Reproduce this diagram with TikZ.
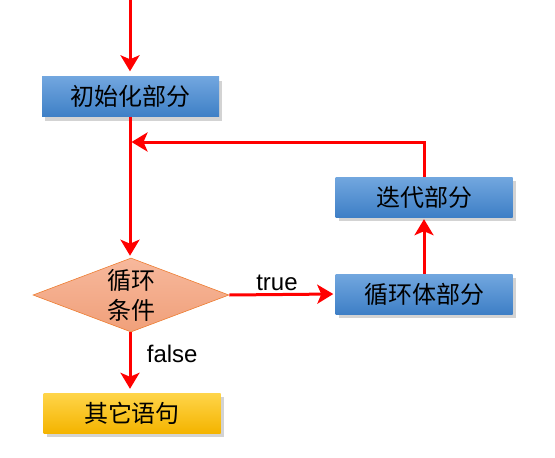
\documentclass[tikz,border=0pt]{standalone}
\usepackage{fontspec}
\newfontfamily\cjk{Noto Sans CJK SC}
\setmainfont{Liberation Sans}
\usetikzlibrary{shapes.geometric,arrows.meta,shadows,positioning}
\definecolor{bluetop}{HTML}{72A7DF}
\definecolor{bluebot}{HTML}{3E7FC6}
\definecolor{yeltop}{HTML}{FFD54A}
\definecolor{yelbot}{HTML}{F4B400}
\definecolor{salmon}{HTML}{F7B89C}
\definecolor{salmonb}{HTML}{F0A07A}
\definecolor{orangeb}{HTML}{ED7D31}
\definecolor{arrred}{HTML}{FF0000}
\tikzset{
  bluebox/.style={rectangle, minimum width=177pt, minimum height=40pt, inner sep=0pt, top color=bluetop, bottom color=bluebot, draw=none, font=\cjk\fontsize{24}{24}\selectfont, drop shadow={shadow xshift=3pt, shadow yshift=-4pt, opacity=0.35}},
  yelbox/.style={bluebox, top color=yeltop, bottom color=yelbot},
  cond/.style={diamond, aspect=2.65, minimum width=196pt, minimum height=74pt, inner sep=0pt, top color=salmon, bottom color=salmonb, draw=orangeb, line width=0.6pt, font=\cjk\fontsize{24}{30}\selectfont, align=center},
  flow/.style={draw=arrred, line width=3pt, -{Stealth[length=16pt,width=19pt,inset=4pt]}},
  lbl/.style={font=\fontsize{24}{24}\selectfont}
}
\begin{document}
\begin{tikzpicture}[x=1pt,y=-1pt]
\useasboundingbox (0,0) rectangle (555,458);
\coordinate (start) at (130,0);
\node[bluebox] (init) at (130.5,96.5) {初始化部分};
\node[cond] (cond) at (131,295) {循环\\条件};
\node[bluebox] (body) at (424,294) {循环体部分};
\node[bluebox] (iter) at (424,197) {迭代部分};
\node[yelbox] (other) at (132,413) {其它语句};
\coordinate (join) at (130,142);
\draw[flow, shorten >=5pt] (start) -- (init.north -| start);
\draw[flow, shorten >=2pt] (init.south -| join) -- (cond.north -| join);
\draw[flow, shorten >=2pt] (cond.east) -- node[lbl, above=-1pt, pos=0.45] {true} (body.west);
\draw[flow, shorten >=2pt] (body.north) -- (iter.south);
\draw[flow] (iter.north) -- (iter.north |- join) -- ([xshift=1.5pt]join);
\draw[flow, shorten >=4pt] (cond.south -| join) -- node[lbl, right, pos=0.35, xshift=12pt] {false} (other.north -| join);
\end{tikzpicture}
\end{document}
